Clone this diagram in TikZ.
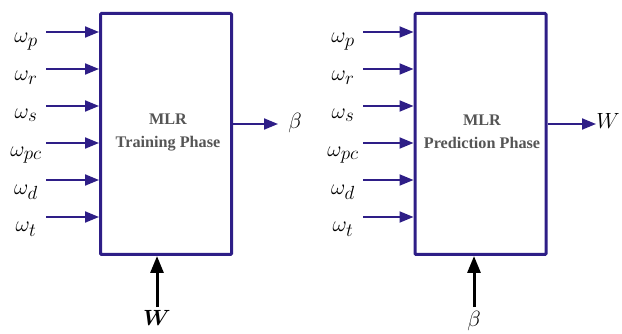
\RequirePackage{fix-cm}
\documentclass[tikz,border=0pt]{standalone}
\usepackage{amsmath}
\usepackage{bm}
\usepackage{fontspec}
\newfontfamily\boxfont{Liberation Serif}
\DeclareMathSizes{22}{22}{19}{15}
\usetikzlibrary{arrows.meta}
\definecolor{frame}{RGB}{46,30,135}
\definecolor{boxtext}{RGB}{85,85,85}
\tikzset{
  phasebox/.style={draw=frame, line width=3pt, minimum width=131pt, minimum height=241pt,
    inner sep=0pt, rounded corners=1pt},
  phasetext/.style={text=boxtext, font=\boxfont\bfseries\fontsize{16.2}{23}\selectfont, align=center},
  inarrow/.style={draw=frame, line width=2pt, -{Triangle[length=14pt,width=11pt]}},
  uparrow/.style={draw=black, line width=3pt, -{Triangle[length=17pt,width=13pt]}},
  varlabel/.style={font=\fontsize{22}{26}\selectfont, inner sep=0pt}
}
\begin{document}
\begin{tikzpicture}[x=1pt, y=-1pt]
  \useasboundingbox (0,0) rectangle (622,334);

  % training block
  \node[phasebox] (train) at (166,134) {};
  \node[phasetext] (ttext) at (168,132) {MLR\\Training Phase};
  % prediction block
  \node[phasebox] (pred) at (480.5,134) {};
  \node[phasetext] (ptext) at (482,132) {MLR\\Prediction Phase};

  % inputs of both blocks
  \foreach \y/\s [count=\i] in {32/p, 69/r, 106/s, 143/pc, 180/d, 217/t} {
    \pgfmathsetmacro{\base}{43+37.8*(\i-1)}
    \coordinate (ta\i) at (46,\y);
    \node[varlabel, anchor=base] (tl\i) at (26,\base) {$\omega_{\s}$};
    \draw[inarrow] (ta\i) -- (ta\i -| train.west);
    \coordinate (pa\i) at (363,\y);
    \node[varlabel, anchor=base] (pl\i) at (343,\base) {$\omega_{\s}$};
    \draw[inarrow] (pa\i) -- (pa\i -| pred.west);
  }

  % outputs
  \coordinate (tout) at (232,124);
  \node[varlabel] (beta) at (295,123) {$\beta$};
  \draw[inarrow] (tout -| train.east) -- (278,124);
  \coordinate (pout) at (546,124);
  \node[varlabel] (wout) at (608,121) {$W$};
  \draw[inarrow] (pout -| pred.east) -- (596,124);

  % inputs from below
  \node[varlabel, anchor=base] (wbot) at (157,326) {$\bm{W}$};
  \coordinate (tb) at (157,307);
  \draw[uparrow] (tb) -- (tb |- train.south);
  \node[varlabel] (bbot) at (474,321) {$\beta$};
  \coordinate (pb) at (474,307);
  \draw[uparrow] (pb) -- (pb |- pred.south);
\end{tikzpicture}
\end{document}
